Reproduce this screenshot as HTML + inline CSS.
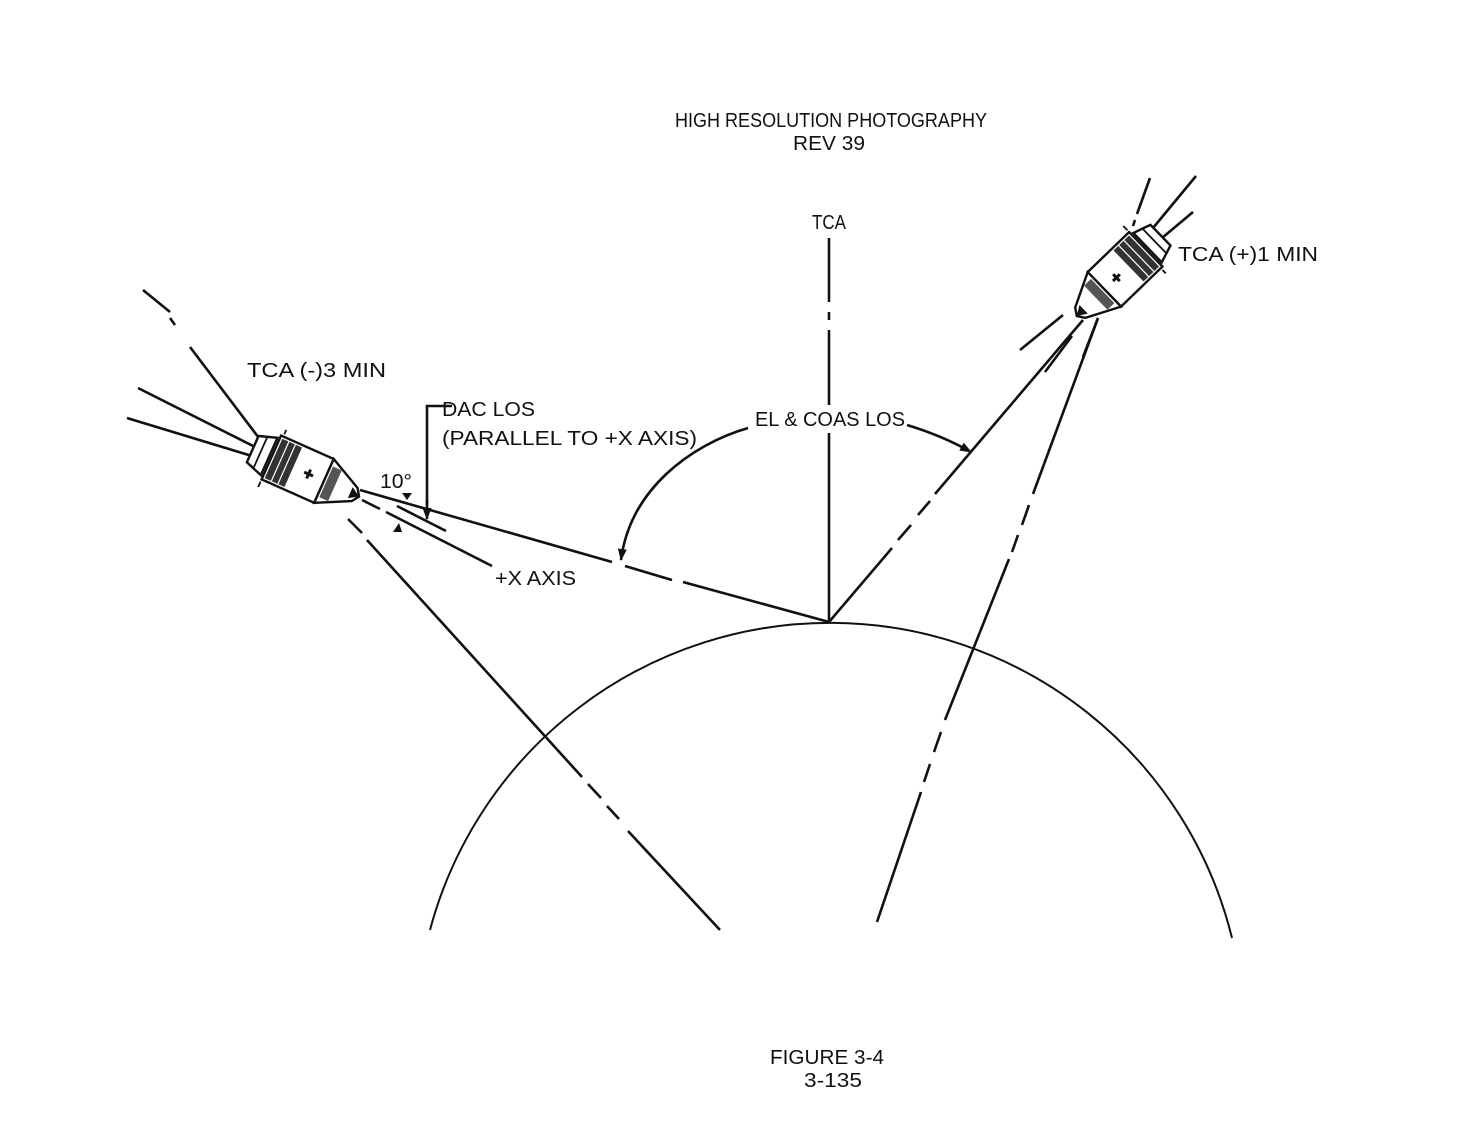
<!DOCTYPE html>
<html><head><meta charset="utf-8"><style>
html,body{margin:0;padding:0;background:#fff}
svg{display:block}
text{font-family:"Liberation Sans",sans-serif;font-size:20px;fill:#111}
</style></head><body>
<svg width="1461" height="1144" viewBox="0 0 1461 1144" xmlns="http://www.w3.org/2000/svg">
<defs>
<marker id="ah" markerWidth="14" markerHeight="12" refX="11" refY="6" orient="auto" markerUnits="userSpaceOnUse">
<path d="M0,1.5 L12,6 L0,10.5 Z" fill="#111"/></marker>
<g id="craft">
 <path d="M-55,-12 L-40,-17 L-40,17 L-55,12 Z" fill="#fff" stroke="#111" stroke-width="2"/>
 <line x1="-48" y1="-15" x2="-48" y2="15" stroke="#111" stroke-width="1.5"/>
 <rect x="-38" y="-20" width="48" height="40" fill="#fff" stroke="#111" stroke-width="2"/>
 <rect x="-36" y="-18" width="18" height="36" fill="#333"/>
 <line x1="-30" y1="-18" x2="-30" y2="18" stroke="#fff" stroke-width="1"/>
 <line x1="-24" y1="-18" x2="-24" y2="18" stroke="#fff" stroke-width="1"/>
 <path d="M-8,0 h8 M-4,-4 v8" stroke="#111" stroke-width="2.5"/>
 <path d="M10,-20 L38,-6 L42,0 L38,6 L10,20 Z" fill="#fff" stroke="#111" stroke-width="2"/>
 <rect x="12" y="-14" width="8" height="28" fill="#555"/>
 <path d="M34,-5 L42,0 L34,5 Z" fill="#111"/>
 <path d="M-38,22 L-38,27 M-36,-22 v-4" stroke="#111" stroke-width="1.5"/>
</g>
</defs>

<text x="831" y="127" text-anchor="middle" textLength="312" lengthAdjust="spacingAndGlyphs">HIGH RESOLUTION PHOTOGRAPHY</text>
<text x="829" y="150" text-anchor="middle" textLength="72" lengthAdjust="spacingAndGlyphs">REV 39</text>

<g stroke="#111" stroke-width="2.6" fill="none" stroke-linecap="butt">
 <path d="M430,930 A414,414 0 0 1 1232,938" stroke-width="2"/>
 <line x1="829" y1="238" x2="829" y2="302"/>
 <line x1="829" y1="312" x2="829" y2="320"/>
 <line x1="829" y1="330" x2="829" y2="405"/>
 <line x1="829" y1="433" x2="829" y2="622"/>
 <line x1="360" y1="490" x2="612" y2="562"/>
 <line x1="625" y1="566" x2="672" y2="580"/>
 <line x1="683" y1="582" x2="829" y2="622"/>
 <line x1="362" y1="500" x2="380" y2="509"/>
 <line x1="386" y1="512" x2="492" y2="566"/>
 <line x1="397" y1="506" x2="446" y2="531"/>
 <polyline points="452,406 427,406 427,505"/>
 <line x1="348" y1="519" x2="362" y2="533"/>
 <line x1="367" y1="540" x2="582" y2="777"/>
 <line x1="588" y1="784" x2="601" y2="798"/>
 <line x1="607" y1="806" x2="619" y2="819"/>
 <line x1="628" y1="831" x2="720" y2="930"/>
 <line x1="143" y1="290" x2="170" y2="312"/>
 <line x1="170" y1="318" x2="175" y2="325" />
 <line x1="190" y1="347" x2="268" y2="450"/>
 <line x1="138" y1="388" x2="255" y2="447"/>
 <line x1="127" y1="418" x2="252" y2="456"/>
 <line x1="829" y1="622" x2="892" y2="548"/>
 <line x1="898" y1="540" x2="911" y2="525"/>
 <line x1="918" y1="515" x2="930" y2="501"/>
 <line x1="935" y1="494" x2="1083" y2="320"/>
 <line x1="1098" y1="318" x2="1033" y2="494"/>
 <line x1="1029" y1="505" x2="1022" y2="525"/>
 <line x1="1018" y1="535" x2="1012" y2="552"/>
 <line x1="1009" y1="559" x2="945" y2="720"/>
 <line x1="941" y1="732" x2="934" y2="752"/>
 <line x1="930" y1="764" x2="924" y2="782"/>
 <line x1="921" y1="792" x2="877" y2="922"/>
 <line x1="1020" y1="350" x2="1063" y2="315"/>
 <line x1="1045" y1="372" x2="1072" y2="336"/>
 <line x1="1083" y1="357" x2="1098" y2="318"/>
 <line x1="1150" y1="178" x2="1137" y2="214"/>
 <line x1="1135" y1="220" x2="1133" y2="226"/>
 <line x1="1196" y1="176" x2="1153" y2="228"/>
 <line x1="1193" y1="212" x2="1162" y2="238"/>
 <path d="M748,428 C690,445 630,490 621,560" marker-end="url(#ah)"/>
 <path d="M907,425 C930,432 950,440 971,452" marker-end="url(#ah)"/>
 <line x1="427" y1="500" x2="427" y2="519" marker-end="url(#ah)"/>
</g>
<path d="M402,493 L412,493 L407,500 Z" fill="#111"/>
<path d="M393,532 L402,532 L399,523 Z" fill="#111"/>

<use href="#craft" transform="translate(313,476) rotate(24) scale(1.2)"/>
<use href="#craft" transform="translate(1113,281) rotate(136) scale(1.2)"/>

<text x="812" y="229" textLength="34" lengthAdjust="spacingAndGlyphs">TCA</text>
<text x="247" y="377" textLength="139" lengthAdjust="spacingAndGlyphs">TCA (-)3 MIN</text>
<text x="442" y="416" textLength="93" lengthAdjust="spacingAndGlyphs">DAC LOS</text>
<text x="442" y="445" textLength="255" lengthAdjust="spacingAndGlyphs">(PARALLEL TO +X AXIS)</text>
<text x="380" y="488" textLength="32" lengthAdjust="spacingAndGlyphs">10°</text>
<text x="495" y="585" textLength="81" lengthAdjust="spacingAndGlyphs">+X AXIS</text>
<text x="755" y="426" textLength="150" lengthAdjust="spacingAndGlyphs">EL &amp; COAS LOS</text>
<text x="1178" y="261" textLength="140" lengthAdjust="spacingAndGlyphs">TCA (+)1 MIN</text>
<text x="770" y="1064" textLength="114" lengthAdjust="spacingAndGlyphs">FIGURE 3-4</text>
<text x="804" y="1087" textLength="58" lengthAdjust="spacingAndGlyphs">3-135</text>
</svg>
</body></html>
